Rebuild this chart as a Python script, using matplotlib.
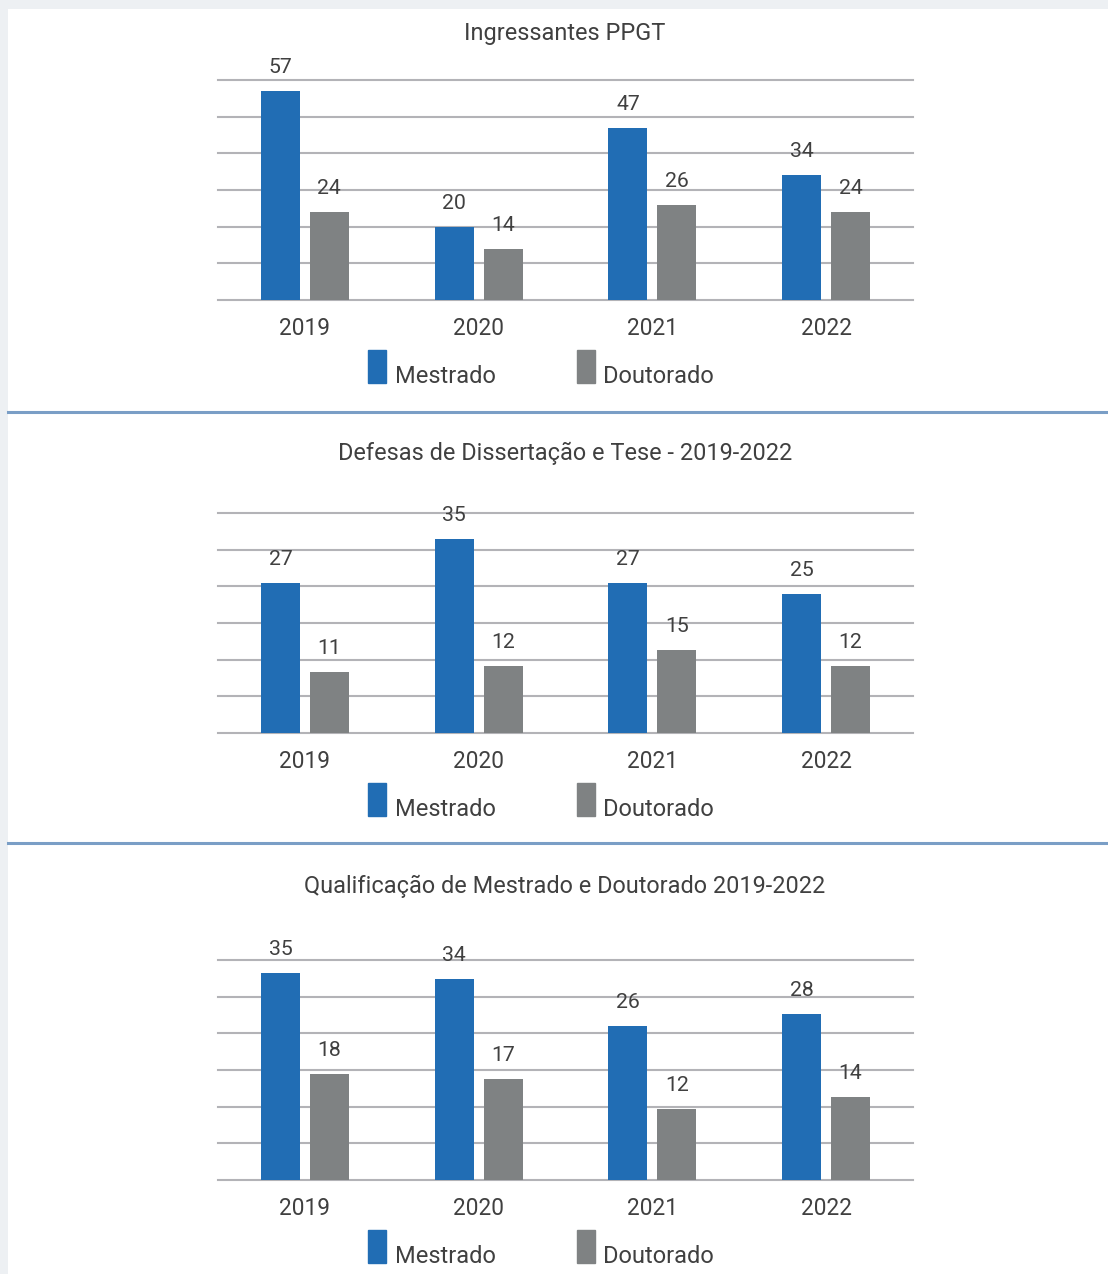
import matplotlib as mpl
from matplotlib import pyplot as plt
from matplotlib.patches import Patch, Rectangle
from matplotlib.legend_handler import HandlerPatch
from matplotlib.lines import Line2D
import numpy as np

# data
years = ['2019', '2020', '2021', '2022']
series_names = ['Mestrado', 'Doutorado']
titles = ['Ingressantes PPGT',
          'Defesas de Dissertação e Tese - 2019-2022',
          'Qualificação de Mestrado e Doutorado 2019-2022']
mestrado_ingressantes = [57, 20, 47, 34]
doutorado_ingressantes = [24, 14, 26, 24]
mestrado_defesas = [27, 35, 27, 25]
doutorado_defesas = [11, 12, 15, 12]
mestrado_qualificacao = [35, 34, 26, 28]
doutorado_qualificacao = [18, 17, 12, 14]

W, H = 1108, 1274
BLUE = '#216db4'
GRAY = '#7f8283'
TEXT = '#404040'
GRID = '#b3b3b7'
SEP = '#7a9ec6'

mpl.rcParams['font.family'] = ['Roboto', 'DejaVu Sans']


def tall_box(legend, orig_handle, xdescent, ydescent, width, height, fontsize):
    # legend swatch sitting on the text baseline, like the Excel legend
    return Rectangle((-xdescent, 0), width, height + ydescent)


fig = plt.figure(figsize=(W / 100, H / 100), dpi=100, facecolor='#edf0f3')
fig.add_artist(Rectangle((8 / W, 0), 1 - 8 / W, 1 - 9 / H, transform=fig.transFigure,
                         facecolor='white', edgecolor='none', zorder=0))

# (title, mestrado, doutorado, axis max, baseline px, title baseline px)
panels = [
    (titles[0], mestrado_ingressantes, doutorado_ingressantes, 60, 300, 40),
    (titles[1], mestrado_defesas, doutorado_defesas, 39.6, 733, 460),
    (titles[2], mestrado_qualificacao, doutorado_qualificacao, 37.2, 1180, 893),
]

x = np.arange(len(years))
width = 0.2245
off = 0.141

for title, mest, dout, ymax, base, ty in panels:
    ax = fig.add_axes([218 / W, 1 - base / H, 695 / W, 220 / H])
    ax.set_facecolor('none')
    ax.set_xlim(-0.5, 3.5)
    ax.set_ylim(0, ymax)
    for v in np.linspace(0, ymax, 7):
        ax.axhline(v, color=GRID, lw=1.5, zorder=0, clip_on=False)
    ax.bar(x - off, mest, width, color=BLUE, zorder=2, label=series_names[0])
    ax.bar(x + off, dout, width, color=GRAY, zorder=2, label=series_names[1])
    for xs, vals in ((x - off, mest), (x + off, dout)):
        for xi, v in zip(xs, vals):
            ax.annotate(str(v), (xi, v), xytext=(0, 18 * 0.72), textcoords='offset points',
                        ha='center', va='baseline', fontsize=15.3, color=TEXT)
    for s in ax.spines.values():
        s.set_visible(False)
    ax.set_yticks([])
    ax.set_xticks(x, years)
    ax.tick_params(axis='x', length=0, pad=12.5, labelsize=16.3, labelcolor=TEXT)

    fig.text(565 / W, 1 - ty / H, title, ha='center', va='baseline', fontsize=16.95, color=TEXT)

    handles = [Patch(color=BLUE, label=series_names[0]), Patch(color=GRAY, label=series_names[1])]
    ax.legend(handles=handles, loc='center', bbox_to_anchor=(541 / W, 1 - (base + 75) / H),
              bbox_transform=fig.transFigure, ncol=2, frameon=False, fontsize=17,
              handlelength=0.76, handleheight=1.40, handletextpad=0.38,
              columnspacing=3.43, labelcolor=TEXT, borderpad=0,
              handler_map={Patch: HandlerPatch(patch_func=tall_box)})

# separators between panels
for y in (412, 843):
    fig.add_artist(Line2D([8 / W, 1], [1 - y / H] * 2, color=SEP, lw=2.2,
                          transform=fig.transFigure))

fig.savefig('out.png', dpi=100, facecolor=fig.get_facecolor())
